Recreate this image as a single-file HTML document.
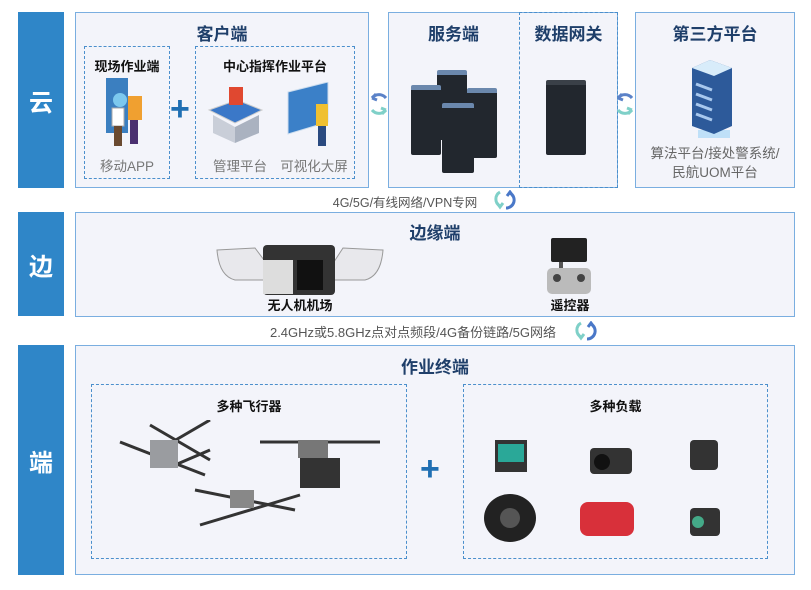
<!DOCTYPE html>
<html><head><meta charset="utf-8"><style>
*{margin:0;padding:0;box-sizing:border-box}
body{width:811px;height:590px;background:#fff;position:relative;overflow:hidden;font-family:"Liberation Sans","Noto Sans CJK SC",sans-serif}
.a{position:absolute}
.bar{position:absolute;left:18px;width:46px;background:#2f86c8;color:#fff;font-size:24px;display:flex;align-items:center;justify-content:center;font-weight:bold}
.box{position:absolute;background:#f3f4fa;border:1.5px solid #7aaee0}
.dash{position:absolute;border:1.5px dashed #4b8fcc}
.t{position:absolute;text-align:center;color:#1f3f6a;font-weight:bold;font-size:17px}
.s{position:absolute;text-align:center;color:#111;font-weight:bold;font-size:13px}
.g{position:absolute;text-align:center;color:#777;font-size:13.5px}
.plus{position:absolute;color:#1f6fb3;font-size:34px;font-weight:bold;line-height:1}
.rack{position:absolute;background:#22272e;border-top:5px solid #6b88ad;border-radius:2px}
</style></head><body>
<div class="bar" style="top:12px;height:176px">云</div>
<div class="bar" style="top:212px;height:104px">边</div>
<div class="bar" style="top:345px;height:230px">端</div>

<!-- client -->
<div class="box" style="left:75px;top:12px;width:294px;height:176px"></div>
<div class="t" style="left:75px;top:20px;width:294px">客户端</div>
<div class="dash" style="left:84px;top:46px;width:86px;height:133px"></div>
<div class="s" style="left:84px;top:56px;width:86px">现场作业端</div>
<svg class="a" style="left:100px;top:78px" width="50" height="70"><rect x="6" y="0" width="22" height="55" fill="#3b7fc0"/><circle cx="20" cy="22" r="7" fill="#7cc8ee"/><rect x="28" y="18" width="14" height="24" fill="#f0a030"/><rect x="30" y="42" width="8" height="24" fill="#4a3070"/><rect x="12" y="30" width="12" height="18" fill="#fff" stroke="#aaa"/><rect x="14" y="48" width="8" height="20" fill="#6a4a30"/></svg>
<div class="g" style="left:84px;top:155px;width:86px">移动APP</div>
<div class="plus" style="left:170px;top:92px">+</div>
<div class="dash" style="left:195px;top:46px;width:160px;height:133px"></div>
<div class="s" style="left:195px;top:56px;width:160px">中心指挥作业平台</div>
<svg class="a" style="left:207px;top:85px" width="60" height="60"><polygon points="2,25 30,15 55,25 28,38" fill="#3b78c8" stroke="#ccc"/><polygon points="6,30 28,42 28,58 6,48" fill="#c9ced8"/><polygon points="28,42 52,30 52,48 28,58" fill="#aab2c0"/><rect x="22" y="2" width="14" height="18" fill="#e04830"/></svg>
<svg class="a" style="left:286px;top:82px" width="52" height="68"><polygon points="2,10 42,0 42,40 2,52" fill="#3b80c8" stroke="#cde"/><rect x="30" y="22" width="12" height="22" fill="#f0c030"/><rect x="32" y="44" width="8" height="20" fill="#2a4a80"/></svg>
<div class="g" style="left:205px;top:155px;width:70px">管理平台</div>
<div class="g" style="left:276px;top:155px;width:76px">可视化大屏</div>

<svg class="a" style="left:368px;top:90px" width="22" height="30"><path d="M18 8 A9 9 0 0 0 4 8 L8 4 M4 8 L9 10" stroke="#5b82c8" stroke-width="3" fill="none"/><path d="M4 20 A9 9 0 0 0 18 20 L14 24 M18 20 L13 18" stroke="#7fd0c8" stroke-width="3" fill="none"/></svg>

<!-- server -->
<div class="box" style="left:388px;top:12px;width:230px;height:176px"></div>
<div class="dash" style="left:519px;top:12px;width:99px;height:176px;border-color:#4b8fcc"></div>
<div class="t" style="left:388px;top:20px;width:131px">服务端</div>
<div class="t" style="left:519px;top:20px;width:99px">数据网关</div>
<div class="rack" style="left:437px;top:70px;width:30px;height:70px"></div>
<div class="rack" style="left:411px;top:85px;width:30px;height:70px"></div>
<div class="rack" style="left:467px;top:88px;width:30px;height:70px"></div>
<div class="rack" style="left:442px;top:103px;width:32px;height:70px"></div>
<div class="rack" style="left:546px;top:80px;width:40px;height:75px;border-top-color:#3a4048"></div>
<svg class="a" style="left:614px;top:90px" width="22" height="30"><path d="M18 8 A9 9 0 0 0 4 8 L8 4 M4 8 L9 10" stroke="#5b82c8" stroke-width="3" fill="none"/><path d="M4 20 A9 9 0 0 0 18 20 L14 24 M18 20 L13 18" stroke="#7fd0c8" stroke-width="3" fill="none"/></svg>

<!-- third party -->
<div class="box" style="left:635px;top:12px;width:160px;height:176px"></div>
<div class="t" style="left:635px;top:20px;width:160px">第三方平台</div>
<svg class="a" style="left:688px;top:58px" width="50" height="82"><rect x="10" y="72" width="32" height="8" fill="#bfe0f8"/><polygon points="4,10 22,2 44,10 44,68 26,76 4,68" fill="#2d5a9a"/><polygon points="4,10 22,2 44,10 26,18" fill="#d8ecfa"/><g stroke="#a8c8ee" stroke-width="3"><line x1="8" y1="26" x2="24" y2="32"/><line x1="8" y1="36" x2="24" y2="42"/><line x1="8" y1="46" x2="24" y2="52"/><line x1="8" y1="56" x2="24" y2="62"/></g></svg>
<div class="g" style="left:635px;top:144px;width:160px;line-height:19px;color:#666">算法平台/接处警系统/<br>民航UOM平台</div>

<div class="g" style="left:300px;top:192px;width:210px;font-size:12.5px;color:#555">4G/5G/有线网络/VPN专网</div>
<svg class="a" style="left:492px;top:190px" width="24" height="20"><path d="M8 2 A8 8 0 0 0 8 16 M5 13 L8 17 L11 13" stroke="#7fd0c8" stroke-width="3" fill="none"/><path d="M14 18 A8 8 0 0 0 18 3 M15 6 L18 2 L21 6" stroke="#4a78c8" stroke-width="3" fill="none"/></svg>

<!-- edge -->
<div class="box" style="left:75px;top:212px;width:720px;height:105px"></div>
<div class="t" style="left:75px;top:219px;width:720px">边缘端</div>
<svg class="a" style="left:215px;top:240px" width="170" height="62"><path d="M2 10 L40 8 L55 28 L55 40 L20 40 Q4 36 2 10Z" fill="#e8e8ec" stroke="#999"/><path d="M168 10 L128 8 L115 28 L115 40 L150 40 Q166 36 168 10Z" fill="#e8e8ec" stroke="#999"/><rect x="48" y="5" width="72" height="50" fill="#333" rx="4"/><rect x="48" y="20" width="30" height="34" fill="#ddd"/><rect x="82" y="20" width="26" height="30" fill="#111"/></svg>
<div class="s" style="left:215px;top:295px;width:170px">无人机机场</div>
<svg class="a" style="left:545px;top:238px" width="48" height="60"><rect x="6" y="0" width="36" height="24" fill="#222" rx="2"/><rect x="14" y="24" width="4" height="6" fill="#555"/><rect x="2" y="30" width="44" height="26" fill="#bbb" rx="5"/><circle cx="12" cy="40" r="4" fill="#444"/><circle cx="36" cy="40" r="4" fill="#444"/></svg>
<div class="s" style="left:530px;top:295px;width:80px">遥控器</div>

<div class="g" style="left:248px;top:322px;width:330px;font-size:13px;color:#555">2.4GHz或5.8GHz点对点频段/4G备份链路/5G网络</div>
<svg class="a" style="left:573px;top:321px" width="24" height="20"><path d="M8 2 A8 8 0 0 0 8 16 M5 13 L8 17 L11 13" stroke="#7fd0c8" stroke-width="3" fill="none"/><path d="M14 18 A8 8 0 0 0 18 3 M15 6 L18 2 L21 6" stroke="#4a78c8" stroke-width="3" fill="none"/></svg>

<!-- terminal -->
<div class="box" style="left:75px;top:345px;width:720px;height:230px"></div>
<div class="t" style="left:75px;top:353px;width:720px">作业终端</div>
<div class="dash" style="left:91px;top:384px;width:316px;height:175px"></div>
<div class="s" style="left:91px;top:396px;width:316px">多种飞行器</div>
<svg class="a" style="left:110px;top:420px" width="290" height="120"><g stroke="#333" stroke-width="3"><line x1="10" y1="22" x2="95" y2="55"/><line x1="100" y1="0" x2="40" y2="35"/><line x1="95" y1="55" x2="95" y2="55"/><line x1="40" y1="5" x2="100" y2="40"/><line x1="65" y1="45" x2="100" y2="30"/><line x1="150" y1="22" x2="270" y2="22"/><line x1="85" y1="70" x2="185" y2="90"/><line x1="90" y1="105" x2="190" y2="75"/></g><rect x="40" y="20" width="28" height="28" fill="#9a9ca0"/><rect x="188" y="20" width="30" height="18" fill="#777"/><rect x="190" y="38" width="40" height="30" fill="#333"/><rect x="120" y="70" width="24" height="18" fill="#888"/></svg>
<div class="plus" style="left:420px;top:452px">+</div>
<div class="dash" style="left:463px;top:384px;width:305px;height:175px"></div>
<div class="s" style="left:463px;top:396px;width:305px">多种负载</div>
<svg class="a" style="left:480px;top:420px" width="280" height="130"><rect x="15" y="20" width="32" height="32" fill="#333"/><rect x="18" y="24" width="26" height="18" fill="#2aa898"/><rect x="110" y="28" width="42" height="26" fill="#333" rx="4"/><circle cx="122" cy="42" r="8" fill="#111"/><rect x="210" y="20" width="28" height="30" fill="#333" rx="4"/><ellipse cx="30" cy="98" rx="26" ry="24" fill="#222"/><circle cx="30" cy="98" r="10" fill="#555"/><rect x="100" y="82" width="54" height="34" fill="#d8303a" rx="8"/><rect x="210" y="88" width="30" height="28" fill="#333" rx="4"/><circle cx="218" cy="102" r="6" fill="#4a8"/></svg>
</body></html>
